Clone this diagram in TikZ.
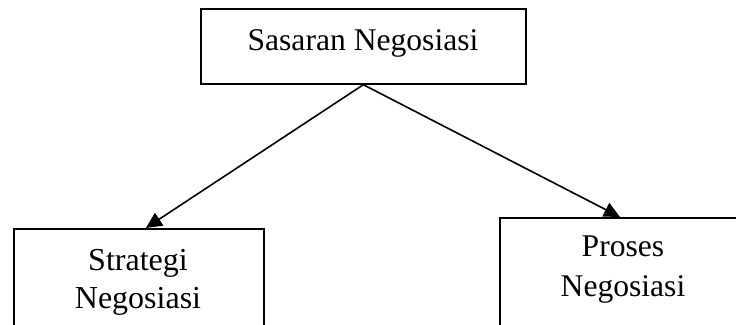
\documentclass[tikz,border=0pt]{standalone}
\usepackage{fontspec}
\setmainfont{Liberation Serif}
\usetikzlibrary{arrows.meta}
\tikzset{
  boxshape/.style={draw, line width=1.7pt, rectangle, inner sep=0pt},
  lbl/.style={inner sep=0pt, align=center, font=\fontsize{31.6}{38}\selectfont},
  conn/.style={line width=1.6pt, -{Triangle[length=16pt,width=15pt]}}
}
\begin{document}
\begin{tikzpicture}[x=1pt,y=-1pt]
\useasboundingbox (0,0) rectangle (736,324);
\clip (0,0) rectangle (736,324);
\node[boxshape, minimum width=325pt, minimum height=75pt, anchor=north west] (top) at (200,8) {};
\node[lbl, anchor=base] (toptext) at (363,50) {Sasaran Negosiasi};
\node[boxshape, minimum width=250pt, minimum height=130pt, anchor=north west] (left) at (13,228) {};
\node[lbl, font=\fontsize{32}{38}\selectfont] (lefttext) at (138,282) {Strategi\\Negosiasi};
\node[boxshape, minimum width=248pt, minimum height=140pt, anchor=north west] (right) at (499,217) {};
\node[lbl, font=\fontsize{31.6}{40}\selectfont] (righttext) at (623,270) {Proses\\Negosiasi};
\draw[conn] (top.south) -- ([xshift=7pt]left.north);
\draw[conn] (top.south) -- (right.north -| 620,0);
\end{tikzpicture}
\end{document}
